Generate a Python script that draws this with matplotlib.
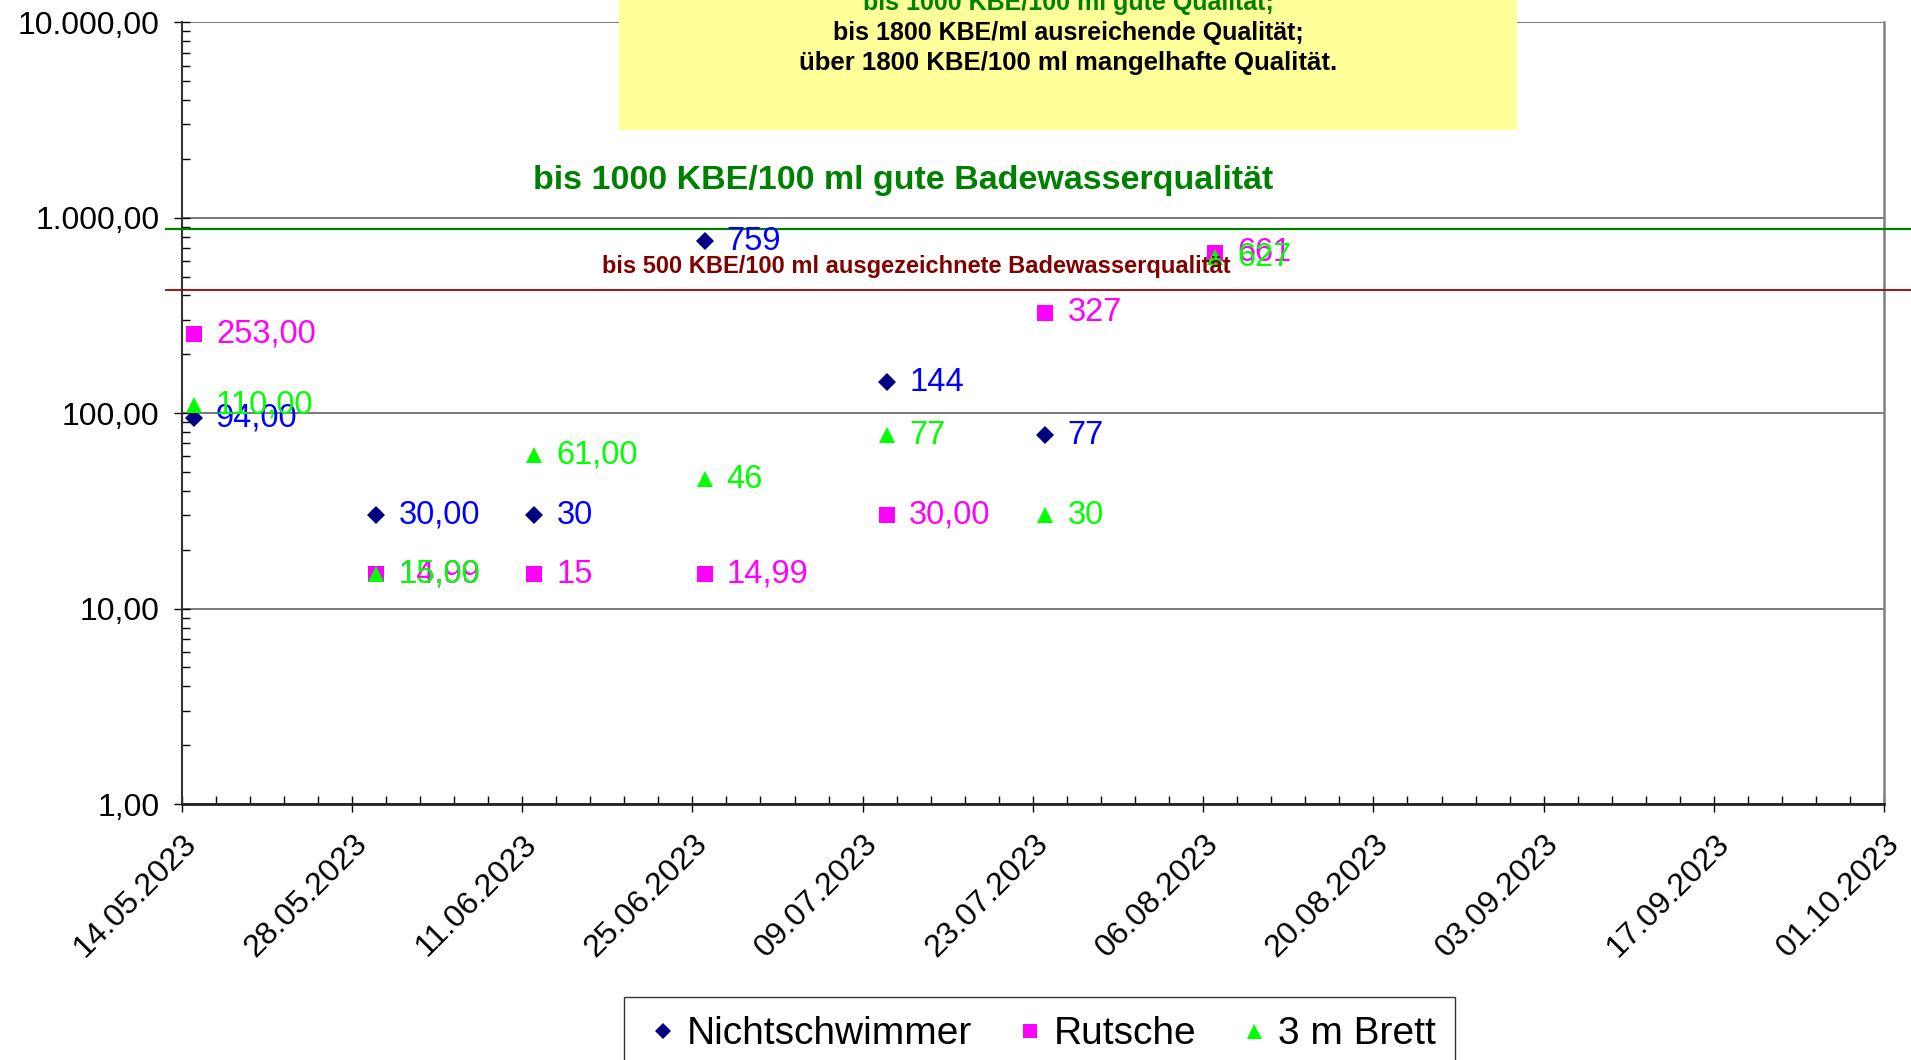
import numpy as np
import matplotlib
matplotlib.use("Agg")
import matplotlib.pyplot as plt
import matplotlib.dates as mdates
from matplotlib.ticker import FixedLocator, FuncFormatter, LogLocator, NullFormatter
from matplotlib.patches import Rectangle
from datetime import datetime

# Messtermine und Werte (KBE/100 ml)
dates = ["15.05.2023", "30.05.2023", "12.06.2023", "26.06.2023",
         "11.07.2023", "24.07.2023", "07.08.2023"]
nichtschwimmer = [94, 30, 30, 759, 144, 77, np.nan]
rutsche = [253, 14.99, 15, 14.99, 30, 327, 661]
brett = [110, 15, 61, 46, 77, 30, 627]

lab_nicht = ["94,00", "30,00", "30", "759", "144", "77", ""]
lab_rutsche = ["253,00", "14,99", "15", "14,99", "30,00", "327", "661"]
lab_brett = ["110,00", "15,00", "61,00", "46", "77", "30", "627"]

# Grenzlinien wie im Original (als Zeichnungsobjekte leicht versetzt)
line_gut = 873
line_ausgez = 426

x_start, x_end = "14.05.2023", "01.10.2023"

NARROW = ["Liberation Sans Narrow", "Liberation Sans", "DejaVu Sans"]
plt.rcParams["font.family"] = ["Liberation Sans", "DejaVu Sans"]

x = [mdates.date2num(datetime.strptime(d, "%d.%m.%Y")) for d in dates]
x0 = mdates.date2num(datetime.strptime(x_start, "%d.%m.%Y"))
x1 = mdates.date2num(datetime.strptime(x_end, "%d.%m.%Y"))

fig = plt.figure(figsize=(19.11, 10.60), dpi=100)
ax = fig.add_axes([0.095, 0.2415, 0.891, 0.7375])

series = [
    ("Nichtschwimmer", nichtschwimmer, lab_nicht, "D", "#000080", "#0000FF", 9),
    ("Rutsche", rutsche, lab_rutsche, "s", "#FF00FF", "#FF00FF", 11),
    ("3 m Brett", brett, lab_brett, "^", "#00FF00", "#00FF00", 12),
]

for name, vals, labs, mk, mcol, tcol, ms in series:
    ax.plot(x, vals, linestyle="none", marker=mk, color=mcol, markersize=ms,
            markeredgewidth=0, label=name, zorder=4)
    for xi, v, t in zip(x, vals, labs):
        if np.isnan(v) or t == "":
            continue
        ax.annotate(t, (xi, v), xytext=(16, 0), textcoords="offset points",
                    va="center", ha="left", fontsize=23.5, color=tcol, zorder=5)

ax.set_yscale("log")
ax.set_ylim(1, 10000)
ax.set_xlim(x0, x1)

ax.yaxis.set_major_locator(FixedLocator([1, 10, 100, 1000, 10000]))
ax.yaxis.set_minor_locator(LogLocator(base=10, subs=np.arange(2, 10)))
ax.yaxis.set_minor_formatter(NullFormatter())


def de_fmt(v, pos):
    s = f"{v:,.2f}"
    return s.replace(",", "X").replace(".", ",").replace("X", ".")


ax.yaxis.set_major_formatter(FuncFormatter(de_fmt))

ax.xaxis.set_major_locator(FixedLocator(np.arange(x0, x1 + 0.5, 14)))
ax.xaxis.set_minor_locator(FixedLocator(np.arange(x0, x1 + 0.5, 2.8)))
ax.xaxis.set_major_formatter(mdates.DateFormatter("%d.%m.%Y"))
plt.setp(ax.get_xticklabels(), rotation=45, ha="right", rotation_mode="anchor")

ax.tick_params(axis="both", which="major", direction="inout", length=12,
               width=1, labelsize=23, color="black")
ax.tick_params(axis="both", which="minor", direction="in", length=6, width=1)
ax.tick_params(axis="y", pad=10)
ax.tick_params(axis="x", pad=12)

ax.yaxis.grid(True, which="major", color="#707070", linewidth=1.3)
ax.set_axisbelow(True)
grid_styles = {10: ("#808080", 2.0), 100: ("#111111", 1.0),
               1000: ("#404040", 1.0), 10000: ("#808080", 2.0)}
for tick in ax.yaxis.get_major_ticks():
    st = grid_styles.get(int(round(tick.get_loc())))
    if st:
        tick.gridline.set_color(st[0])
        tick.gridline.set_linewidth(st[1])

ax.spines["top"].set_visible(False)
ax.spines["right"].set_color("#808080")
ax.spines["right"].set_linewidth(1.8)
ax.spines["left"].set_color("#333333")
ax.spines["left"].set_linewidth(1.5)
ax.spines["bottom"].set_color("#222222")
ax.spines["bottom"].set_linewidth(2)

# Grenzlinien, ragen links und rechts über den Plotbereich hinaus
ax.axhline(line_gut, xmin=-0.009, xmax=1.02, color="#008000", linewidth=1.6,
           clip_on=False, zorder=3)
ax.axhline(line_ausgez, xmin=-0.009, xmax=1.02, color="#A00000", linewidth=1.3,
           clip_on=False, zorder=3)

# Beschriftungen der Grenzlinien
fig.text(0.4725, 1 - 181 / 1060, "bis 1000 KBE/100 ml gute Badewasserqualität",
         family=NARROW, fontweight="bold", fontsize=24.5, color="#008000",
         ha="center", va="center")
fig.text(0.4795, 1 - 267 / 1060, "bis 500 KBE/100 ml ausgezeichnete Badewasserqualität",
         family=NARROW, fontweight="bold", fontsize=17, color="#800000",
         ha="center", va="center")

# gelbes Infofeld oben
fig.patches.append(Rectangle((619 / 1911, 1 - 130 / 1060), 898 / 1911, 130 / 1060,
                             transform=fig.transFigure, facecolor="#FFFF99",
                             edgecolor="none", zorder=1))
cx = (619 + 898 / 2) / 1911
fig.text(cx, 1 - 3 / 1060, "bis 1000 KBE/100 ml gute Qualität;", family=NARROW,
         fontweight="bold", fontsize=18, color="#008000", ha="center", va="center",
         zorder=2)
fig.text(cx, 1 - 33 / 1060, "bis 1800 KBE/ml ausreichende Qualität;", family=NARROW,
         fontweight="bold", fontsize=18, color="black", ha="center", va="center",
         zorder=2)
fig.text(cx, 1 - 63 / 1060, "über 1800 KBE/100 ml mangelhafte Qualität.", family=NARROW,
         fontweight="bold", fontsize=18.5, color="black", ha="center", va="center",
         zorder=2)

leg = ax.legend(loc="upper center", bbox_to_anchor=(0.544, 1 - 997 / 1060),
                bbox_transform=fig.transFigure, ncol=3, fontsize=28,
                frameon=True, fancybox=False, edgecolor="black",
                handletextpad=0.1, columnspacing=1.0, handlelength=1.0,
                borderpad=0.5, markerscale=0.9, borderaxespad=0)
leg.get_frame().set_linewidth(1)

fig.savefig("out.png", dpi=100)
